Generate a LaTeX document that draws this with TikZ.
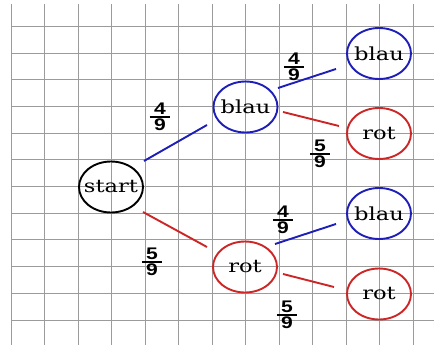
\documentclass[tikz,border=0pt]{standalone}
\usepackage{fontspec}
\usetikzlibrary{shapes.geometric,calc}
\newfontfamily\fracfont{Liberation Sans}
\newfontfamily\statefont{DejaVu Serif}
\definecolor{treeblue}{RGB}{30,30,185}
\definecolor{treered}{RGB}{205,38,38}
\definecolor{gridgray}{RGB}{155,155,155}
\newcommand\myfrc[2]{\vbox{\hbox to 16pt{\hss#1\hss}\kern1.2pt\hrule height 1.6pt\kern1.4pt\hbox to 16pt{\hss#2\hss}}}
\tikzset{
  state/.style={circle, draw, line width=1.9pt, minimum size=51pt, inner sep=0pt, xscale=1.255,
    font=\fontsize{18}{21}\selectfont\statefont},
  bluestate/.style={state, draw=treeblue},
  redstate/.style={state, draw=treered},
  blueedge/.style={draw=treeblue, line width=1.9pt},
  rededge/.style={draw=treered, line width=1.9pt},
  prob/.style={inner sep=0pt, xscale=1.255, font=\fontsize{16.8}{20}\selectfont\fracfont\bfseries},
  gridline/.style={draw=gridgray, line width=0.9pt}
}
\begin{document}
\begin{tikzpicture}[x=1pt,y=-1pt]
\useasboundingbox (0,0) rectangle (434,345);
\fill[white] (0,0) rectangle (434,345);
% grid
\foreach \i in {0,...,12} {
  \draw[gridline] ({11+33.5*\i},4) -- ({11+33.5*\i},345);
}
\foreach \j in {0,...,11} {
  \draw[gridline] (11,{26.3+26.7*\j}) -- (434,{26.3+26.7*\j});
}
% nodes
\node[state, draw=black] (start) at (111,187) {start};
\node[bluestate] (b1) at (245.5,107) {blau};
\node[redstate] (r1) at (245,267) {rot};
\node[bluestate] (b2) at (379,53.5) {blau};
\node[redstate] (r2) at (379,133.5) {rot};
\node[bluestate] (b3) at (379,213.5) {blau};
\node[redstate] (r3) at (379,294) {rot};
% edges
\draw[blueedge] ($(start.center)+(33,-26)$) -- ($(b1.center)+(-38.5,18)$);
\draw[rededge] ($(start.center)+(32,25)$) -- ($(r1.center)+(-38,-20)$);
\draw[blueedge] ($(b1.center)+(32.5,-19)$) -- ($(b2.center)+(-43,15.5)$);
\draw[rededge] ($(b1.center)+(37.5,5)$) -- ($(r2.center)+(-40,-7.5)$);
\draw[blueedge] ($(r1.center)+(30,-23)$) -- ($(b3.center)+(-43,10.5)$);
\draw[rededge] ($(r1.center)+(38,7)$) -- ($(r3.center)+(-45,-7)$);
% probabilities
\node[prob] (f1) at (160,117) {\myfrc{4}{9}};
\node[prob] (f2) at (152,262) {\myfrc{5}{9}};
\node[prob] (f3) at (294,67) {\myfrc{4}{9}};
\node[prob] (f4) at (320,154) {\myfrc{5}{9}};
\node[prob] (f5) at (283,220) {\myfrc{4}{9}};
\node[prob] (f6) at (287,315) {\myfrc{5}{9}};
\end{tikzpicture}
\end{document}
